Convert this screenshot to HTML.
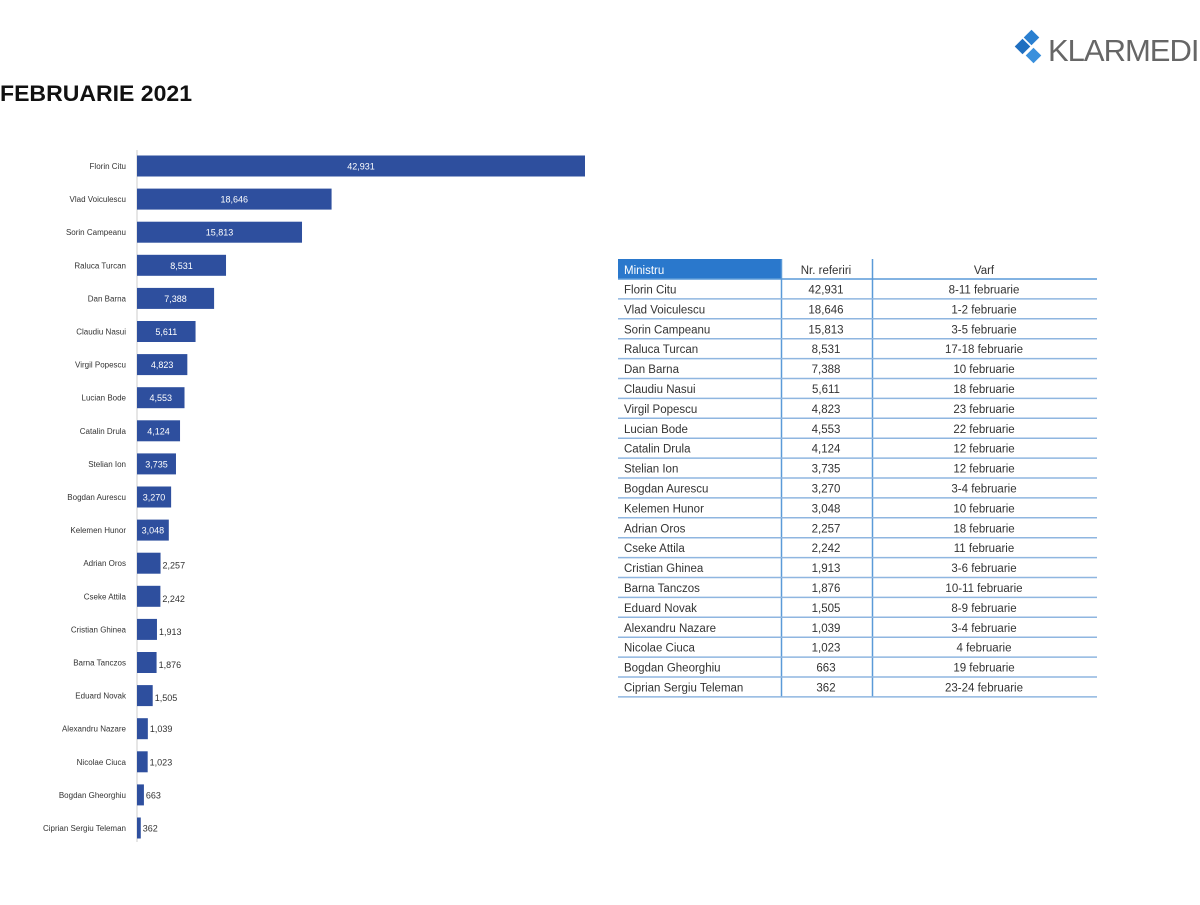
<!DOCTYPE html>
<html><head><meta charset="utf-8"><style>
body{margin:0;background:#fff;width:1200px;height:900px;overflow:hidden;font-family:"Liberation Sans",sans-serif}
</style></head><body>
<svg width="1200" height="900" xmlns="http://www.w3.org/2000/svg" font-family="Liberation Sans, sans-serif">
<text x="0" y="101" font-size="22" font-weight="bold" fill="#111" textLength="192" lengthAdjust="spacingAndGlyphs">FEBRUARIE 2021</text>
<g>
<rect x="1026" y="32" width="11" height="11" fill="#2a7fd0" transform="rotate(45 1031.5 37.5)"/>
<rect x="1017" y="41" width="11" height="11" fill="#1f6fc0" transform="rotate(45 1022.5 46.5)"/>
<rect x="1028" y="50" width="11" height="11" fill="#3a90dc" transform="rotate(45 1033.5 55.5)"/>
<text x="1048" y="61" font-size="31" fill="#666" letter-spacing="-1">KLARMEDI</text>
</g>
<line x1="137" y1="150" x2="137" y2="842" stroke="#ccc" stroke-width="1"/>
<g id="bars" font-size="8"></g>
<g id="tbl" font-size="11.5" fill="#333"></g>
</svg>
<script>
var d=[["Florin Citu",42931,"8-11 februarie"],["Vlad Voiculescu",18646,"1-2 februarie"],["Sorin Campeanu",15813,"3-5 februarie"],["Raluca Turcan",8531,"17-18 februarie"],["Dan Barna",7388,"10 februarie"],["Claudiu Nasui",5611,"18 februarie"],["Virgil Popescu",4823,"23 februarie"],["Lucian Bode",4553,"22 februarie"],["Catalin Drula",4124,"12 februarie"],["Stelian Ion",3735,"12 februarie"],["Bogdan Aurescu",3270,"3-4 februarie"],["Kelemen Hunor",3048,"10 februarie"],["Adrian Oros",2257,"18 februarie"],["Cseke Attila",2242,"11 februarie"],["Cristian Ghinea",1913,"3-6 februarie"],["Barna Tanczos",1876,"10-11 februarie"],["Eduard Novak",1505,"8-9 februarie"],["Alexandru Nazare",1039,"3-4 februarie"],["Nicolae Ciuca",1023,"4 februarie"],["Bogdan Gheorghiu",663,"19 februarie"],["Ciprian Sergiu Teleman",362,"23-24 februarie"]];
function f(n){return n.toLocaleString("en-US")}
var s="",t="";
d.forEach(function(r,i){
 var cy=166+i*33.1,w=r[1]*448/42931;
 s+='<text x="126" y="'+(cy+3)+'" text-anchor="end" fill="#333">'+r[0]+'</text>';
 s+='<rect x="137" y="'+(cy-10.5)+'" width="'+w+'" height="21" fill="#2e4f9e"/>';
 if(w>30) s+='<text x="'+(137+w/2)+'" y="'+(cy+3.5)+'" text-anchor="middle" fill="#fff" font-size="9">'+f(r[1])+'</text>';
 else s+='<text x="'+(139+w)+'" y="'+(cy+3.5+(i>=12&&i<=16?2:0))+'" fill="#333" font-size="9">'+f(r[1])+'</text>';
 var y=279+i*19.9;
 t+='<text x="624" y="'+(y+14.5)+'">'+r[0]+'</text><text x="826" y="'+(y+14.5)+'" text-anchor="middle">'+f(r[1])+'</text><text x="984" y="'+(y+14.5)+'" text-anchor="middle">'+r[2]+'</text>';
 t+='<line x1="618" y1="'+(y+19.9)+'" x2="1097" y2="'+(y+19.9)+'" stroke="#8fb6e0" stroke-width="1.5"/>';
});
t='<rect x="618" y="259" width="163" height="20" fill="#2a78cc"/><text x="624" y="274" fill="#fff">Ministru</text><text x="826" y="274" text-anchor="middle">Nr. referiri</text><text x="984" y="274" text-anchor="middle">Varf</text><line x1="618" y1="279" x2="1097" y2="279" stroke="#5a9ad8" stroke-width="1.5"/><line x1="781.5" y1="259" x2="781.5" y2="697" stroke="#5a9ad8" stroke-width="1.5"/><line x1="872.5" y1="259" x2="872.5" y2="697" stroke="#5a9ad8" stroke-width="1.5"/>'+t;
document.getElementById("bars").innerHTML=s;
document.getElementById("tbl").innerHTML=t;
</script>
</body></html>
